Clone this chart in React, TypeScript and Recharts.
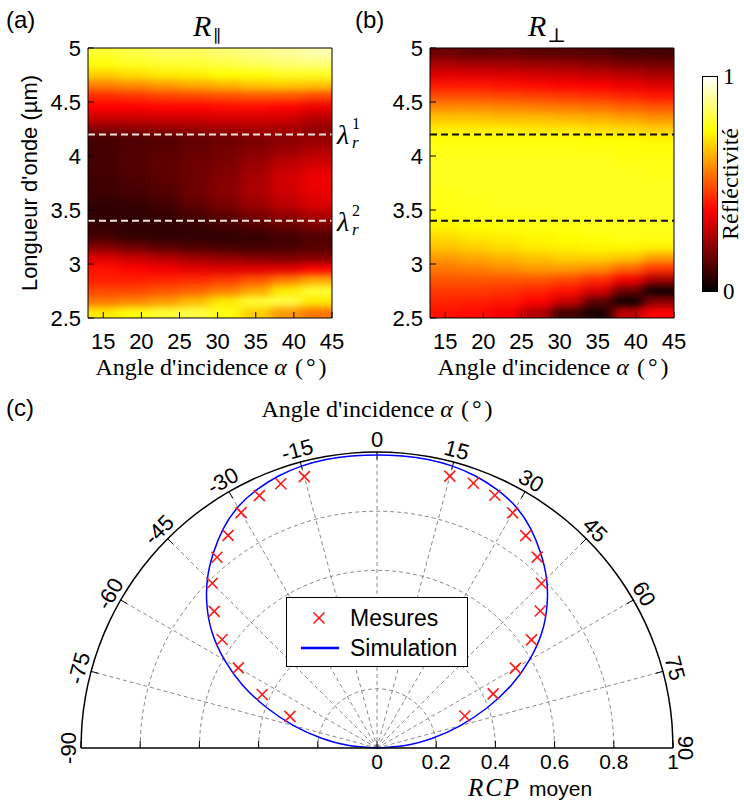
import React from 'react';
import {
  ScatterChart,
  Scatter,
  ComposedChart,
  Line,
  XAxis,
  YAxis,
  ReferenceLine,
  ReferenceDot,
  Legend,
} from 'recharts';

const SANS = '"Liberation Sans", Arial, sans-serif';
const SERIF = '"Liberation Serif", "Times New Roman", serif';

// ---- heat maps (a) and (b): cell centres ----
const angleCols = [15, 19, 23, 27, 31, 35, 39, 43];
const lambdaRows = [
  4.95, 4.85, 4.75, 4.65, 4.55, 4.45, 4.35, 4.25, 4.15, 4.05, 3.95, 3.85, 3.75,
  3.65, 3.55, 3.45, 3.35, 3.25, 3.15, 3.05, 2.95, 2.85, 2.75, 2.65, 2.55,
];
const angleTicks = [15, 20, 25, 30, 35, 40, 45];
const lambdaTicks = [2.5, 3, 3.5, 4, 4.5, 5];
const resonances = [4.2, 3.4];

const rParallel = [
  [0.8, 0.82, 0.84, 0.84, 0.86, 0.88, 0.9, 0.92],
  [0.76, 0.78, 0.8, 0.8, 0.82, 0.84, 0.86, 0.87],
  [0.68, 0.7, 0.72, 0.73, 0.75, 0.76, 0.78, 0.78],
  [0.56, 0.58, 0.6, 0.62, 0.64, 0.66, 0.67, 0.66],
  [0.44, 0.45, 0.47, 0.48, 0.49, 0.5, 0.5, 0.48],
  [0.37, 0.37, 0.38, 0.38, 0.39, 0.39, 0.38, 0.35],
  [0.3, 0.3, 0.31, 0.31, 0.32, 0.32, 0.31, 0.27],
  [0.2, 0.21, 0.22, 0.23, 0.24, 0.25, 0.25, 0.22],
  [0.1, 0.11, 0.12, 0.14, 0.16, 0.18, 0.2, 0.22],
  [0.1, 0.12, 0.13, 0.15, 0.17, 0.2, 0.23, 0.26],
  [0.1, 0.12, 0.14, 0.16, 0.18, 0.22, 0.27, 0.3],
  [0.1, 0.12, 0.14, 0.16, 0.19, 0.24, 0.3, 0.34],
  [0.09, 0.11, 0.13, 0.16, 0.2, 0.25, 0.31, 0.35],
  [0.09, 0.1, 0.12, 0.16, 0.2, 0.25, 0.3, 0.34],
  [0.07, 0.08, 0.1, 0.14, 0.18, 0.23, 0.28, 0.32],
  [0.07, 0.07, 0.08, 0.11, 0.14, 0.18, 0.22, 0.26],
  [0.08, 0.07, 0.07, 0.08, 0.1, 0.12, 0.15, 0.18],
  [0.1, 0.08, 0.07, 0.07, 0.07, 0.08, 0.1, 0.12],
  [0.2, 0.17, 0.14, 0.12, 0.11, 0.1, 0.11, 0.13],
  [0.33, 0.3, 0.27, 0.24, 0.22, 0.2, 0.19, 0.2],
  [0.4, 0.38, 0.36, 0.34, 0.33, 0.33, 0.34, 0.38],
  [0.42, 0.42, 0.43, 0.44, 0.46, 0.5, 0.56, 0.62],
  [0.48, 0.48, 0.5, 0.52, 0.56, 0.62, 0.72, 0.8],
  [0.55, 0.57, 0.6, 0.65, 0.72, 0.8, 0.82, 0.72],
  [0.72, 0.76, 0.8, 0.82, 0.77, 0.68, 0.6, 0.55],
];

const rPerp = [
  [0.16, 0.14, 0.15, 0.13, 0.13, 0.12, 0.1, 0.1],
  [0.25, 0.24, 0.24, 0.23, 0.22, 0.2, 0.18, 0.17],
  [0.33, 0.33, 0.32, 0.31, 0.3, 0.29, 0.27, 0.25],
  [0.41, 0.41, 0.4, 0.39, 0.38, 0.37, 0.35, 0.33],
  [0.49, 0.49, 0.48, 0.47, 0.46, 0.45, 0.43, 0.41],
  [0.58, 0.58, 0.57, 0.56, 0.55, 0.54, 0.52, 0.5],
  [0.66, 0.66, 0.65, 0.65, 0.64, 0.63, 0.61, 0.59],
  [0.72, 0.72, 0.72, 0.71, 0.71, 0.7, 0.69, 0.67],
  [0.76, 0.76, 0.76, 0.76, 0.76, 0.75, 0.75, 0.74],
  [0.77, 0.77, 0.77, 0.77, 0.77, 0.77, 0.76, 0.76],
  [0.78, 0.78, 0.78, 0.78, 0.78, 0.78, 0.77, 0.77],
  [0.78, 0.78, 0.78, 0.78, 0.78, 0.78, 0.78, 0.77],
  [0.78, 0.78, 0.78, 0.78, 0.78, 0.78, 0.78, 0.78],
  [0.77, 0.78, 0.78, 0.78, 0.78, 0.78, 0.78, 0.78],
  [0.77, 0.77, 0.78, 0.78, 0.78, 0.78, 0.78, 0.78],
  [0.76, 0.77, 0.77, 0.77, 0.78, 0.78, 0.78, 0.78],
  [0.74, 0.75, 0.76, 0.77, 0.77, 0.78, 0.78, 0.78],
  [0.7, 0.72, 0.73, 0.74, 0.75, 0.76, 0.77, 0.77],
  [0.66, 0.68, 0.7, 0.72, 0.73, 0.74, 0.74, 0.73],
  [0.6, 0.62, 0.64, 0.66, 0.68, 0.68, 0.66, 0.6],
  [0.55, 0.56, 0.58, 0.6, 0.6, 0.58, 0.52, 0.45],
  [0.5, 0.5, 0.5, 0.5, 0.48, 0.44, 0.36, 0.24],
  [0.46, 0.46, 0.45, 0.43, 0.4, 0.32, 0.16, 0.02],
  [0.43, 0.42, 0.41, 0.38, 0.3, 0.14, 0.02, 0.2],
  [0.4, 0.39, 0.36, 0.26, 0.1, 0.04, 0.28, 0.38],
];

// ---- polar plot (c) ----
const measAngles = [-70, -65, -60, -55, -50, -45, -40, -35, -30, -25, -20, -15, 15, 20, 25, 30, 35, 40, 45, 50, 55, 60, 65, 70];
const measRcp = [
  0.313, 0.428, 0.541, 0.639, 0.718, 0.787, 0.841, 0.877, 0.918, 0.941, 0.95, 0.949,
  0.951, 0.952, 0.942, 0.917, 0.876, 0.842, 0.786, 0.72, 0.637, 0.54, 0.433, 0.316,
];
const simAngles = [
  -90, -85, -80, -75, -70, -65, -60, -55, -50, -45, -40, -35, -30, -25, -20, -15, -10, -5, 0,
  5, 10, 15, 20, 25, 30, 35, 40, 45, 50, 55, 60, 65, 70, 75, 80, 85, 90,
];
const simRcp = [
  0, 0.095, 0.19, 0.29, 0.395, 0.5, 0.595, 0.68, 0.75, 0.81, 0.86, 0.905, 0.94, 0.962, 0.977, 0.986, 0.99, 0.99, 0.99,
  0.99, 0.99, 0.986, 0.977, 0.962, 0.94, 0.905, 0.86, 0.81, 0.75, 0.68, 0.595, 0.5, 0.395, 0.29, 0.19, 0.095, 0,
];
const rcpTicks = [-1, -0.8, -0.6, -0.4, -0.2, 0, 0.2, 0.4, 0.6, 0.8, 1];
const ringRadii = [0.2, 0.4, 0.6, 0.8];
const spokeAngles = [-75, -60, -45, -30, -15, 0, 15, 30, 45, 60, 75];
const angleLabels = [-90, -75, -60, -45, -30, -15, 0, 15, 30, 45, 60, 75, 90];

const PLOT_W = 244;
const PLOT_H = 270;
const CELL_W = PLOT_W / angleCols.length;
const CELL_H = PLOT_H / lambdaRows.length;

// MATLAB "hot" colour map
function hot(v: number) {
  const c = Math.max(0, Math.min(1, v));
  const r = Math.min(1, c / 0.375);
  const g = Math.max(0, Math.min(1, (c - 0.375) / 0.375));
  const b = Math.max(0, Math.min(1, (c - 0.75) / 0.25));
  return `rgb(${Math.round(r * 255)},${Math.round(g * 255)},${Math.round(b * 255)})`;
}

const toCells = (grid: number[][]) =>
  lambdaRows.flatMap((l, i) => angleCols.map((a, j) => ({ x: a, y: l, v: grid[i][j] })));

const toXY = (deg: number, r: number) => ({
  x: r * Math.sin((deg * Math.PI) / 180),
  y: r * Math.cos((deg * Math.PI) / 180),
});

// grid geometry only (polar rings), not data
const ring = (r: number) => simAngles.map((a) => toXY(a, r));

const measData = measAngles.map((a, i) => toXY(a, measRcp[i]));
const simData = simAngles.map((a, i) => toXY(a, simRcp[i]));

function HeatCell(props: any) {
  const { cx, cy, payload } = props;
  return (
    <rect
      x={cx - CELL_W / 2 - 0.3}
      y={cy - CELL_H / 2 - 0.3}
      width={CELL_W + 0.6}
      height={CELL_H + 0.6}
      fill={hot(payload.v)}
    />
  );
}

const lambdaLabel = (n: number) => (props: any) => {
  const vb = props.viewBox;
  const x = vb.x + vb.width + 5;
  const y = vb.y + 10;
  return (
    <g fontFamily={SERIF} fill="#000">
      <text x={x} y={y} fontSize={28} fontStyle="italic">λ</text>
      <text x={x + 15} y={y - 15} fontSize={16}>{n}</text>
      <text x={x + 15} y={y + 4} fontSize={17} fontStyle="italic">r</text>
    </g>
  );
};

interface HeatPanelProps {
  left: number;
  width: number;
  padLeft: number;
  grid: number[][];
  dash: string;
  withLambda?: boolean;
}

function HeatPanel({ left, width, padLeft, grid, dash, withLambda }: HeatPanelProps) {
  const padRight = width - padLeft - PLOT_W;
  const cells = toCells(grid);
  const axisStyle = { stroke: '#000', strokeWidth: 1 };
  return (
    <div style={{ position: 'absolute', left, top: 0, width, height: 400 }}>
      <div className="heat" style={{ position: 'absolute', left: 0, top: 0 }}>
        <ScatterChart width={width} height={400} margin={{ top: 48, left: padLeft, right: padRight, bottom: 82 }}>
          <XAxis type="number" dataKey="x" domain={[13, 45]} hide allowDataOverflow />
          <YAxis type="number" dataKey="y" domain={[2.5, 5]} hide allowDataOverflow />
          <Scatter data={cells} shape={HeatCell} isAnimationActive={false} />
        </ScatterChart>
      </div>
      <div style={{ position: 'absolute', left: 0, top: 0 }}>
        <ScatterChart width={width} height={400} margin={{ top: 38, left: padLeft - 60, right: padRight - 10, bottom: 52 }}>
          <XAxis
            xAxisId="b"
            type="number"
            dataKey="x"
            domain={[13, 45]}
            ticks={angleTicks}
            interval={0}
            allowDataOverflow
            height={30}
            tickSize={-6}
            tickMargin={21}
            axisLine={axisStyle}
            tickLine={axisStyle}
            tick={{ fill: '#000', fontSize: 22, fontFamily: SANS }}
          />
          <XAxis
            xAxisId="t"
            orientation="top"
            type="number"
            domain={[13, 45]}
            ticks={angleTicks}
            interval={0}
            allowDataOverflow
            height={10}
            tickSize={-6}
            tick={false}
            axisLine={axisStyle}
            tickLine={axisStyle}
          />
          <YAxis
            yAxisId="l"
            type="number"
            dataKey="y"
            domain={[2.5, 5]}
            ticks={lambdaTicks}
            interval={0}
            allowDataOverflow
            width={60}
            tickSize={-6}
            tickMargin={13}
            axisLine={axisStyle}
            tickLine={axisStyle}
            tick={{ fill: '#000', fontSize: 22, fontFamily: SANS }}
          />
          <YAxis
            yAxisId="r"
            orientation="right"
            type="number"
            domain={[2.5, 5]}
            ticks={lambdaTicks}
            interval={0}
            allowDataOverflow
            width={10}
            tickSize={-6}
            tick={false}
            axisLine={axisStyle}
            tickLine={axisStyle}
          />
          {resonances.map((r, i) => (
            <ReferenceLine
              key={r}
              xAxisId="b"
              yAxisId="l"
              y={r}
              stroke={dash}
              strokeWidth={2}
              strokeDasharray="7 4"
              label={withLambda ? lambdaLabel(i + 1) : undefined}
            />
          ))}
          <Scatter xAxisId="b" yAxisId="l" data={[]} isAnimationActive={false} />
        </ScatterChart>
      </div>
    </div>
  );
}

function Cross(props: any) {
  const { cx, cy } = props;
  const s = 5.5;
  return (
    <g stroke="#ff1a1a" strokeWidth={1.6}>
      <line x1={cx - s} y1={cy - s} x2={cx + s} y2={cy + s} />
      <line x1={cx - s} y1={cy + s} x2={cx + s} y2={cy - s} />
    </g>
  );
}

function RcpTick(props: any) {
  const { x, y, payload } = props;
  if (payload.value < 0) return <g />;
  return (
    <text x={x} y={y} dy="0.72em" textAnchor="middle" fontSize={21} fontFamily={SANS} fill="#000">
      {String(payload.value)}
    </text>
  );
}

const angleLabelShape = (deg: number) => (props: any) => (
  <text
    x={props.cx}
    y={props.cy}
    transform={`rotate(${deg} ${props.cx} ${props.cy})`}
    textAnchor="middle"
    dominantBaseline="central"
    fontSize={22}
    fontFamily={SANS}
    fill="#000"
  >
    {String(deg)}
  </text>
);

function LegendBox(props: any) {
  const order = ['Mesures', 'Simulation'];
  const items = (props.payload || [])
    .filter((p: any) => order.includes(p.value))
    .sort((a: any, b: any) => order.indexOf(a.value) - order.indexOf(b.value));
  return (
    <div
      style={{
        width: 182,
        height: 70,
        boxSizing: 'border-box',
        border: '1.5px solid #000',
        background: '#fff',
        padding: '5px 0 0 13px',
        fontFamily: SANS,
        fontSize: 23,
        color: '#000',
      }}
    >
      {items.map((it: any) => (
        <div key={it.value} style={{ display: 'flex', alignItems: 'center', height: 30 }}>
          <svg width={40} height={20}>
            {it.value === 'Mesures' ? (
              <Cross cx={19} cy={10} />
            ) : (
              <line x1={1} y1={10} x2={39} y2={10} stroke="#0000ff" strokeWidth={2.5} />
            )}
          </svg>
          <span style={{ marginLeft: 10 }}>{it.value}</span>
        </div>
      ))}
    </div>
  );
}

function PolarPanel() {
  const grey = '#8a8a8a';
  return (
    <div style={{ position: 'absolute', left: 0, top: 420 }}>
      <ComposedChart width={744} height={383} margin={{ top: 32, left: 81, right: 71, bottom: 25 }}>
        <XAxis
          type="number"
          dataKey="x"
          domain={[-1, 1]}
          ticks={rcpTicks}
          interval={0}
          height={30}
          tickSize={-7}
          tickMargin={13}
          axisLine={{ stroke: '#000', strokeWidth: 1.5 }}
          tickLine={{ stroke: '#000' }}
          tick={RcpTick}
        />
        <YAxis type="number" dataKey="y" domain={[0, 1]} hide />
        {spokeAngles.map((a) => (
          <ReferenceLine
            key={`s${a}`}
            segment={[{ x: 0, y: 0 }, toXY(a, 1)]}
            stroke={grey}
            strokeDasharray="4 3"
            ifOverflow="visible"
          />
        ))}
        {spokeAngles.map((a) => (
          <ReferenceLine
            key={`t${a}`}
            segment={[toXY(a, 0.975), toXY(a, 1)]}
            stroke="#000"
            ifOverflow="visible"
          />
        ))}
        {ringRadii.map((r) => (
          <Line
            key={`r${r}`}
            data={ring(r)}
            dataKey="y"
            type="natural"
            dot={false}
            stroke={grey}
            strokeWidth={1}
            strokeDasharray="4 3"
            legendType="none"
            isAnimationActive={false}
          />
        ))}
        <Line
          data={ring(1)}
          dataKey="y"
          type="natural"
          dot={false}
          stroke="#000"
          strokeWidth={1.5}
          legendType="none"
          isAnimationActive={false}
        />
        <Line
          name="Simulation"
          data={simData}
          dataKey="y"
          type="natural"
          dot={false}
          stroke="#0000ff"
          strokeWidth={1.5}
          isAnimationActive={false}
        />
        <Scatter name="Mesures" data={measData} fill="#ff1a1a" shape={Cross} isAnimationActive={false} />
        {angleLabels.map((a) => {
          const p = toXY(a, 1.042);
          return (
            <ReferenceDot key={`l${a}`} x={p.x} y={p.y} ifOverflow="visible" shape={angleLabelShape(a)} />
          );
        })}
        <Legend
          layout="vertical"
          align="center"
          verticalAlign="middle"
          wrapperStyle={{ left: 286, top: 177, width: 182, height: 70 }}
          content={LegendBox}
        />
      </ComposedChart>
    </div>
  );
}

function AxisTitle({ x, y }: { x: number; y: number }) {
  return (
    <text x={x} y={y} textAnchor="middle" fontFamily={SERIF} fontSize={24} fill="#000">
      Angle d'incidence <tspan fontStyle="italic">α</tspan>
      <tspan dx={8}>(</tspan>
      <tspan dx={3}>°</tspan>
      <tspan dx={3}>)</tspan>
    </text>
  );
}

export default function App() {
  return (
    <div style={{ position: 'absolute', left: 0, top: 0, width: 744, height: 803, background: '#fff', overflow: 'hidden' }}>
      <style>{`.heat .recharts-scatter { filter: url(#heatSmooth); }`}</style>
      <svg width={0} height={0} style={{ position: 'absolute' }}>
        <defs>
          <filter id="heatSmooth" x="0" y="0" width="1" height="1" colorInterpolationFilters="sRGB">
            <feGaussianBlur stdDeviation="6 3.5" />
            <feComponentTransfer>
              <feFuncA type="table" tableValues="1 1" />
            </feComponentTransfer>
          </filter>
        </defs>
      </svg>

      <HeatPanel left={0} width={370} padLeft={88} grid={rParallel} dash="#f2e4dc" withLambda />
      <HeatPanel left={350} width={350} padLeft={80} grid={rPerp} dash="#111" />

      <div
        style={{
          position: 'absolute',
          left: 702,
          top: 76,
          width: 16,
          height: 216,
          boxSizing: 'border-box',
          border: '1px solid #000',
          background: 'linear-gradient(to top, #000 0%, #f00 37.5%, #ff0 75%, #fff 100%)',
        }}
      />

      <PolarPanel />

      <svg width={744} height={803} style={{ position: 'absolute', left: 0, top: 0, pointerEvents: 'none' }}>
        <g fontFamily={SANS} fontSize={24} fill="#000">
          <text x={6} y={28}>(a)</text>
          <text x={355} y={28}>(b)</text>
          <text x={6} y={416}>(c)</text>
        </g>
        <text x={193} y={36} fontFamily={SERIF} fontSize={30} fill="#000">
          <tspan fontStyle="italic">R</tspan>
          <tspan fontFamily='"DejaVu Serif", serif' fontSize={17} dx={2} dy={6}>∥</tspan>
        </text>
        <text x={528} y={36} fontFamily={SERIF} fontSize={30} fill="#000">
          <tspan fontStyle="italic">R</tspan>
          <tspan fontFamily='"DejaVu Serif", serif' fontSize={20} dx={1} dy={6}>⊥</tspan>
        </text>
        <text
          x={37}
          y={183}
          transform="rotate(-90 37 183)"
          textAnchor="middle"
          fontFamily={SANS}
          fontSize={22}
          fill="#000"
        >
          Longueur d'onde (µm)
        </text>
        <AxisTitle x={211} y={375} />
        <AxisTitle x={553} y={375} />
        <AxisTitle x={377} y={417} />
        <g fontFamily={SERIF} fontSize={23} fill="#000">
          <text x={723} y={84}>1</text>
          <text x={723} y={299}>0</text>
          <text x={738} y={184} transform="rotate(-90 738 184)" textAnchor="middle" fontSize={24}>
            Réfléctivité
          </text>
        </g>
        <text x={530} y={796} textAnchor="middle" fill="#000">
          <tspan fontFamily={SERIF} fontStyle="italic" fontSize={25} letterSpacing={2}>RCP</tspan>
          <tspan fontFamily={SANS} fontSize={21} dx={8}>moyen</tspan>
        </text>
      </svg>
    </div>
  );
}
